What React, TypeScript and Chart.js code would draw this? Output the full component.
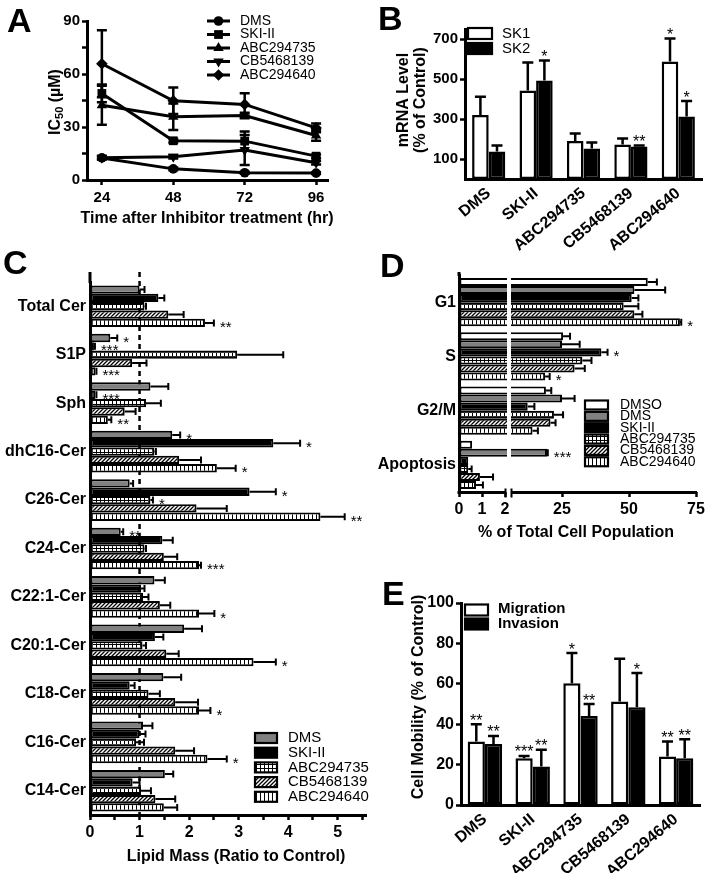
import React, { useEffect, useRef } from 'react';
import { Chart, registerables } from 'chart.js';

Chart.register(...registerables);

const FONT = '"Liberation Sans", Arial, Helvetica, sans-serif';
const W = 709;
const H = 873;

// ---------------- Panel A ----------------
const aHours = [24, 48, 72, 96];
const aYTicks = [0, 15, 30, 45, 60, 75, 90];
const aYLabels = [0, 30, 60, 90];
const aNames = ['DMS', 'SKI-II', 'ABC294735', 'CB5468139', 'ABC294640'];
const aDMS = [12.5, 6.3, 4.1, 3.9];
const aSKI = [49.0, 22.2, 22.0, 13.5];
const a735 = [42.3, 35.8, 36.5, 25.2];
const aCB = [12.6, 13.2, 17.0, 9.8];
const a640 = [65.8, 44.8, 42.8, 29.5];
const aDMSErr = [0.8, 0.8, 0.5, 0.5];
const aSKIErr = [5.0, 1.0, 5.5, 1.0];
const a735Err = [11.0, 7.5, 1.5, 3.0];
const aCBErr = [1.0, 1.0, 8.5, 1.0];
const a640Err = [19.0, 7.5, 6.3, 2.5];

// ---------------- Panel B ----------------
const bCats = ['DMS', 'SKI-II', 'ABC294735', 'CB5468139', 'ABC294640'];
const bSK1 = [320, 442, 190, 173, 587];
const bSK1Err = [91, 141, 38, 30, 116];
const bSK2 = [137, 492, 153, 162, 312];
const bSK2Err = [30, 100, 29, 5, 78];
const bSK1Sig = ['', '', '', '', '*'];
const bSK2Sig = ['', '*', '', '**', '*'];
const bYTicks = [100, 300, 500, 700];

// ---------------- Panel C ----------------
const cCats = ['Total Cer', 'S1P', 'Sph', 'dhC16-Cer', 'C26-Cer', 'C24-Cer', 'C22:1-Cer', 'C20:1-Cer', 'C18-Cer', 'C16-Cer', 'C14-Cer'];
const cNames = ['DMS', 'SKI-II', 'ABC294735', 'CB5468139', 'ABC294640'];
const cDMS = [1.00, 0.41, 1.22, 1.66, 0.80, 0.62, 1.30, 1.90, 1.48, 1.07, 1.51];
const cDMSErr = [0.10, 0.14, 0.36, 0.16, 0.07, 0.05, 0.21, 0.36, 0.36, 0.19, 0.17];
const cSKI = [1.38, 0.08, 0.11, 3.70, 3.22, 1.46, 1.03, 1.31, 0.80, 1.00, 0.86];
const cSKIErr = [0.12, 0.02, 0.02, 0.54, 0.53, 0.21, 0.07, 0.17, 0.10, 0.12, 0.14];
const c735 = [1.10, 2.97, 1.13, 1.30, 1.22, 1.10, 1.07, 1.06, 1.18, 0.93, 1.03];
const c735Err = [0.03, 0.93, 0.30, 0.03, 0.05, 0.03, 0.11, 0.07, 0.23, 0.16, 0.20];
const cCB = [1.58, 0.85, 0.70, 1.80, 2.15, 1.49, 1.41, 1.54, 1.72, 1.72, 1.32];
const cCBErr = [0.31, 0.29, 0.22, 0.44, 0.61, 0.27, 0.21, 0.25, 0.46, 0.38, 0.40];
const c640 = [2.32, 0.11, 0.36, 2.56, 4.65, 2.20, 2.20, 3.30, 2.20, 2.37, 1.49];
const c640Err = [0.18, 0.02, 0.07, 0.38, 0.49, 0.04, 0.31, 0.45, 0.23, 0.39, 0.27];
const cDMSSig = ['', '*', '', '*', '', '**', '', '', '', '', ''];
const cSKISig = ['', '***', '***', '*', '*', '', '', '', '', '', ''];
const c735Sig = ['', '', '', '', '*', '', '', '', '', '', ''];
const cCBSig = ['', '', '', '', '', '', '', '', '', '', ''];
const c640Sig = ['**', '***', '**', '*', '**', '***', '*', '*', '*', '*', ''];
const cXTicks = [0, 0.5, 1, 1.5, 2, 2.5, 3, 3.5, 4, 4.5, 5, 5.5];

// ---------------- Panel D ----------------
const dCats = ['G1', 'S', 'G2/M', 'Apoptosis'];
const dNames = ['DMSO', 'DMS', 'SKI-II', 'ABC294735', 'CB5468139', 'ABC294640'];
const dDMSO = [57.0, 25.4, 19.0, 0.57];
const dDMSOErr = [3.4, 2.6, 2.0, 0];
const dDMS = [52.0, 25.0, 25.0, 19.4];
const dDMSErr = [11.5, 6.6, 4.7, 0.3];
const dSKI = [51.0, 39.7, 12.2, 0.40];
const dSKIErr = [2.5, 2.3, 2.5, 0.02];
const d735 = [48.0, 32.6, 22.0, 0.40];
const d735Err = [5.5, 3.4, 3.4, 0.15];
const dCB = [52.0, 29.7, 20.7, 0.91];
const dCBErr = [3.0, 3.8, 1.9, 0.57];
const d640 = [69.0, 18.7, 14.0, 0.74];
const d640Err = [0.5, 1.7, 2.0, 0.30];
const dDMSOSig = ['', '', '', ''];
const dDMSSig = ['', '', '', '***'];
const dSKISig = ['', '*', '', ''];
const d735Sig = ['', '', '', ''];
const dCBSig = ['', '', '', ''];
const d640Sig = ['*', '*', '', ''];
const dTickValues = [0, 1, 2, 25, 50, 75];

// ---------------- Panel E ----------------
const eCats = ['DMS', 'SKI-II', 'ABC294735', 'CB5468139', 'ABC294640'];
const eMig = [31.4, 23.1, 60.3, 51.2, 24.0];
const eMigErr = [8.6, 1.2, 14.9, 21.2, 7.4];
const eInv = [30.2, 19.0, 44.1, 48.4, 23.1];
const eInvErr = [4.0, 8.3, 5.9, 16.9, 9.5];
const eMigSig = ['**', '***', '*', '', '**'];
const eInvSig = ['**', '**', '**', '*', '**'];
const eYTicks = [0, 20, 40, 60, 80, 100];

// ---------------- helpers ----------------
const bold = (s: number) => `bold ${s}px ${FONT}`;
const reg = (s: number) => `${s}px ${FONT}`;

// broken axis for panel D: 0..2 on an expanded segment, 25..75 on a compressed one
function dpos(v: number) {
  return v <= 2 ? v * 23 : 103 + (v - 25) * 2.68;
}

function makePattern(kind: string): any {
  const c = document.createElement('canvas');
  c.width = 4;
  c.height = 4;
  const g = c.getContext('2d') as CanvasRenderingContext2D;
  g.fillStyle = '#fff';
  g.fillRect(0, 0, 4, 4);
  g.fillStyle = '#000';
  g.strokeStyle = '#000';
  if (kind === 'grid') {
    g.fillRect(0, 0, 1, 4);
    g.fillRect(0, 0, 4, 1);
  } else if (kind === 'vline') {
    g.fillRect(0, 0, 1, 4);
  } else {
    g.lineWidth = 1.3;
    g.beginPath();
    g.moveTo(-1, 5); g.lineTo(5, -1);
    g.moveTo(-1, 1); g.lineTo(1, -1);
    g.moveTo(3, 5); g.lineTo(5, 3);
    g.stroke();
  }
  return g.createPattern(c, 'repeat');
}

function axis(size: number, o: any = {}) {
  const showTicks = o.ticks !== false;
  return {
    border: { display: o.border !== false, color: '#000', width: 3 },
    grid: { display: showTicks, drawOnChartArea: false, drawTicks: showTicks, tickLength: 5, tickWidth: 2.5, tickColor: '#000' },
    ticks: {
      color: '#000', font: { family: FONT, size, weight: 'bold' }, padding: o.padding ?? 2, autoSkip: false,
      maxRotation: o.rot ?? 0, minRotation: o.rot ?? 0,
      ...(o.callback ? { callback: o.callback } : {}),
    },
  };
}

function baseOptions(area: { left: number; top: number; right: number; bottom: number }) {
  return {
    responsive: false,
    animation: false,
    devicePixelRatio: 1,
    events: [],
    layout: { padding: { left: 0, top: area.top, right: W - area.right, bottom: 0 } },
    plugins: { legend: { display: false }, tooltip: { enabled: false }, title: { display: false } },
  };
}

function letter(ctx: any, ch: string, x: number, y: number) {
  ctx.save();
  ctx.fillStyle = '#000';
  ctx.font = bold(34);
  ctx.textAlign = 'left';
  ctx.textBaseline = 'alphabetic';
  ctx.fillText(ch, x, y);
  ctx.restore();
}

function hText(ctx: any, text: string, x: number, y: number, font: string, align = 'center') {
  ctx.save();
  ctx.fillStyle = '#000';
  ctx.font = font;
  ctx.textAlign = align;
  ctx.textBaseline = 'middle';
  ctx.fillText(text, x, y);
  ctx.restore();
}

function vText(ctx: any, text: string, x: number, y: number, font: string) {
  ctx.save();
  ctx.translate(x, y);
  ctx.rotate(-Math.PI / 2);
  ctx.fillStyle = '#000';
  ctx.font = font;
  ctx.textAlign = 'center';
  ctx.textBaseline = 'middle';
  ctx.fillText(text, 0, 0);
  ctx.restore();
}

function legendBox(ctx: any, x: number, yc: number, w: number, h: number, fill: any) {
  ctx.save();
  ctx.fillStyle = fill;
  ctx.fillRect(x, yc - h / 2, w, h);
  ctx.strokeStyle = '#000';
  ctx.lineWidth = 2.2;
  ctx.strokeRect(x, yc - h / 2, w, h);
  ctx.restore();
}

function marker(ctx: any, style: string, rot: number, x: number, y: number, r: number) {
  ctx.beginPath();
  if (style === 'circle') {
    ctx.arc(x, y, r, 0, Math.PI * 2);
  } else if (style === 'rect') {
    const s = Math.SQRT1_2 * r;
    ctx.rect(x - s, y - s, 2 * s, 2 * s);
  } else if (style === 'triangle') {
    let a = (rot * Math.PI) / 180;
    ctx.moveTo(x + Math.sin(a) * r, y - Math.cos(a) * r);
    a += (2 * Math.PI) / 3;
    ctx.lineTo(x + Math.sin(a) * r, y - Math.cos(a) * r);
    a += (2 * Math.PI) / 3;
    ctx.lineTo(x + Math.sin(a) * r, y - Math.cos(a) * r);
    ctx.closePath();
  } else {
    ctx.moveTo(x, y - r);
    ctx.lineTo(x + r, y);
    ctx.lineTo(x, y + r);
    ctx.lineTo(x - r, y);
    ctx.closePath();
  }
  ctx.fill();
}

// vertical error bar + stars (bars pointing up)
function vErr(chart: any, di: number, ends: number[], sigs: string[], cap: number) {
  const ctx = chart.ctx;
  const ys = chart.scales.y;
  const meta = chart.getDatasetMeta(di);
  ctx.save();
  ctx.strokeStyle = '#000';
  ctx.fillStyle = '#000';
  ctx.lineWidth = 2.5;
  meta.data.forEach((el: any, i: number) => {
    const top = ys.getPixelForValue(ends[i]);
    if (top < el.y - 0.5) {
      ctx.beginPath();
      ctx.moveTo(el.x, el.y);
      ctx.lineTo(el.x, top);
      ctx.moveTo(el.x - cap / 2, top);
      ctx.lineTo(el.x + cap / 2, top);
      ctx.stroke();
    }
    if (sigs[i]) {
      ctx.font = reg(16);
      ctx.textAlign = 'center';
      ctx.textBaseline = 'alphabetic';
      ctx.fillText(sigs[i], el.x, Math.min(top, el.y) + 1.5);
    }
  });
  ctx.restore();
}

// horizontal error bar + stars (bars pointing right)
function hErr(chart: any, di: number, ends: number[], sigs: string[], cap: number, fs: number) {
  const ctx = chart.ctx;
  const xs = chart.scales.x;
  const meta = chart.getDatasetMeta(di);
  ctx.save();
  ctx.strokeStyle = '#000';
  ctx.fillStyle = '#000';
  ctx.lineWidth = 2;
  meta.data.forEach((el: any, i: number) => {
    const end = xs.getPixelForValue(ends[i]);
    if (end > el.x + 0.5) {
      ctx.beginPath();
      ctx.moveTo(el.x, el.y);
      ctx.lineTo(end, el.y);
      ctx.moveTo(end, el.y - cap / 2);
      ctx.lineTo(end, el.y + cap / 2);
      ctx.stroke();
    }
    if (sigs[i]) {
      ctx.font = reg(fs);
      ctx.textAlign = 'left';
      ctx.textBaseline = 'alphabetic';
      ctx.fillText(sigs[i], Math.max(end, el.x) + 6, el.y + 0.6 * fs);
    }
  });
  ctx.restore();
}

// ---------------- Panel A config ----------------
function configA(): any {
  const defs = [
    { v: aDMS, e: aDMSErr, style: 'circle', rot: 0, r: 4.8 },
    { v: aSKI, e: aSKIErr, style: 'rect', rot: 0, r: 6.2 },
    { v: a735, e: a735Err, style: 'triangle', rot: 0, r: 6 },
    { v: aCB, e: aCBErr, style: 'triangle', rot: 180, r: 6 },
    { v: a640, e: a640Err, style: 'rectRot', rot: 0, r: 5.8 },
  ];
  const area = { left: 87, top: 21, right: 328, bottom: 180 };
  const plugin = {
    id: 'panelA',
    beforeDatasetsDraw(chart: any) {
      const ctx = chart.ctx;
      const ys = chart.scales.y;
      ctx.save();
      ctx.strokeStyle = '#000';
      ctx.lineWidth = 2.5;
      defs.forEach((d, di) => {
        chart.getDatasetMeta(di).data.forEach((el: any, i: number) => {
          const t = ys.getPixelForValue(d.v[i] + d.e[i]);
          const b = ys.getPixelForValue(d.v[i] - d.e[i]);
          ctx.beginPath();
          ctx.moveTo(el.x, t); ctx.lineTo(el.x, b);
          ctx.moveTo(el.x - 5, t); ctx.lineTo(el.x + 5, t);
          ctx.moveTo(el.x - 5, b); ctx.lineTo(el.x + 5, b);
          ctx.stroke();
        });
      });
      ctx.restore();
    },
    afterDraw(chart: any) {
      const ctx = chart.ctx;
      // legend
      const rows = [21, 34.5, 48, 61.5, 75];
      defs.forEach((d, i) => {
        ctx.save();
        ctx.strokeStyle = '#000';
        ctx.fillStyle = '#000';
        ctx.lineWidth = 3;
        ctx.beginPath();
        ctx.moveTo(207, rows[i]);
        ctx.lineTo(230, rows[i]);
        ctx.stroke();
        marker(ctx, d.style, d.rot, 218.5, rows[i], d.r);
        ctx.restore();
        hText(ctx, aNames[i], 240, rows[i], reg(14), 'left');
      });
      hText(ctx, 'Time after Inhibitor treatment (hr)', 207, 219, bold(16));
      // y title with subscript
      ctx.save();
      ctx.translate(54, 102);
      ctx.rotate(-Math.PI / 2);
      ctx.fillStyle = '#000';
      ctx.textBaseline = 'alphabetic';
      ctx.textAlign = 'left';
      ctx.font = bold(16);
      const w1 = ctx.measureText('IC').width;
      const w3 = ctx.measureText(' (\u00b5M)').width;
      ctx.font = bold(11);
      const w2 = ctx.measureText('50').width;
      let x = -(w1 + w2 + w3) / 2;
      ctx.font = bold(16);
      ctx.fillText('IC', x, 6);
      x += w1;
      ctx.font = bold(11);
      ctx.fillText('50', x, 9);
      x += w2;
      ctx.font = bold(16);
      ctx.fillText(' (\u00b5M)', x, 6);
      ctx.restore();
      letter(ctx, 'A', 7, 32);
    },
  };
  return {
    type: 'line',
    data: {
      datasets: defs.map((d, di) => ({
        label: aNames[di],
        data: aHours.map((h, i) => ({ x: h, y: d.v[i] })),
        borderColor: '#000',
        backgroundColor: '#000',
        borderWidth: 3,
        pointStyle: d.style,
        pointRotation: d.rot,
        pointRadius: d.r,
        pointBorderWidth: 0,
        pointBackgroundColor: '#000',
        tension: 0,
        clip: false,
      })),
    },
    options: {
      ...baseOptions(area),
      scales: {
        x: {
          type: 'linear', min: 19, max: 100,
          ...axis(15, { padding: 4 }),
          afterBuildTicks: (s: any) => { s.ticks = aHours.map((value) => ({ value })); },
          afterFit: (s: any) => { s.height = H - area.bottom; },
        },
        y: {
          type: 'linear', min: 0, max: 90,
          ...axis(15, { callback: (v: number) => (aYLabels.includes(v) ? String(v) : '') }),
          afterBuildTicks: (s: any) => { s.ticks = aYTicks.map((value) => ({ value })); },
          afterFit: (s: any) => { s.width = area.left; },
        },
      },
    },
    plugins: [plugin],
  };
}

// ---------------- Panel B config ----------------
function configB(): any {
  const area = { left: 465, top: 29, right: 702, bottom: 179 };
  const plugin = {
    id: 'panelB',
    afterDatasetsDraw(chart: any) {
      vErr(chart, 0, bSK1.map((v, i) => v + bSK1Err[i]), bSK1Sig, 11);
      vErr(chart, 1, bSK2.map((v, i) => v + bSK2Err[i]), bSK2Sig, 11);
    },
    afterDraw(chart: any) {
      const ctx = chart.ctx;
      legendBox(ctx, 468, 33.5, 24, 11, '#fff');
      legendBox(ctx, 468, 48.5, 24, 11, '#000');
      hText(ctx, 'SK1', 502, 33.5, reg(15), 'left');
      hText(ctx, 'SK2', 502, 48.5, reg(15), 'left');
      vText(ctx, 'mRNA Level', 404, 100, bold(16));
      vText(ctx, '(% of Control)', 421, 100, bold(16));
      letter(ctx, 'B', 378, 30);
    },
  };
  return {
    type: 'bar',
    data: {
      labels: bCats,
      datasets: [
        { label: 'SK1', data: bSK1, backgroundColor: '#fff', borderColor: '#000', borderWidth: 2.5, borderSkipped: false },
        { label: 'SK2', data: bSK2, backgroundColor: '#000', borderColor: '#000', borderWidth: 2.5, borderSkipped: false },
      ],
    },
    options: {
      ...baseOptions(area),
      datasets: { bar: { categoryPercentage: 0.7, barPercentage: 1 } },
      scales: {
        x: {
          ...axis(16, { ticks: false, rot: 40, padding: 5 }),
          afterFit: (s: any) => { s.height = H - area.bottom; },
        },
        y: {
          type: 'linear', min: 0, max: 750,
          ...axis(15),
          afterBuildTicks: (s: any) => { s.ticks = bYTicks.map((value) => ({ value })); },
          afterFit: (s: any) => { s.width = area.left; },
        },
      },
    },
    plugins: [plugin],
  };
}

// ---------------- Panel C config ----------------
function configC(): any {
  const area = { left: 90, top: 282, right: 366, bottom: 815 };
  const grid = makePattern('grid');
  const hatch = makePattern('hatch');
  const vline = makePattern('vline');
  const fills = ['#808080', '#000', grid, hatch, vline];
  const vals = [cDMS, cSKI, c735, cCB, c640];
  const errs = [cDMSErr, cSKIErr, c735Err, cCBErr, c640Err];
  const sigs = [cDMSSig, cSKISig, c735Sig, cCBSig, c640Sig];
  const plugin = {
    id: 'panelC',
    beforeDatasetsDraw(chart: any) {
      const ctx = chart.ctx;
      const x = chart.scales.x.getPixelForValue(1);
      ctx.save();
      ctx.strokeStyle = '#000';
      ctx.lineWidth = 2.5;
      ctx.setLineDash([5, 4]);
      ctx.beginPath();
      ctx.moveTo(x, 272);
      ctx.lineTo(x, chart.chartArea.bottom);
      ctx.stroke();
      ctx.restore();
    },
    afterDatasetsDraw(chart: any) {
      vals.forEach((v, di) => hErr(chart, di, v.map((x, i) => x + errs[di][i]), sigs[di], 7, 15));
    },
    afterDraw(chart: any) {
      const ctx = chart.ctx;
      const a = chart.chartArea;
      ctx.save();
      ctx.strokeStyle = '#000';
      ctx.lineWidth = 3;
      ctx.beginPath();
      ctx.moveTo(a.left, 272);
      ctx.lineTo(a.left, a.top + 1);
      ctx.stroke();
      ctx.restore();
      const rows = [738, 752.7, 767.4, 782.1, 796.8];
      cNames.forEach((n, i) => {
        legendBox(ctx, 255, rows[i], 22, 10, fills[i]);
        hText(ctx, n, 288, rows[i], reg(15), 'left');
      });
      hText(ctx, 'Lipid Mass (Ratio to Control)', 236, 857, bold(16));
      letter(ctx, 'C', 3, 274);
    },
  };
  return {
    type: 'bar',
    data: {
      labels: cCats,
      datasets: vals.map((v, i) => ({
        label: cNames[i], data: v, backgroundColor: fills[i], borderColor: '#000', borderWidth: 2, borderSkipped: false,
      })),
    },
    options: {
      ...baseOptions(area),
      indexAxis: 'y',
      datasets: { bar: { categoryPercentage: 0.86, barPercentage: 1 } },
      scales: {
        x: {
          type: 'linear', min: 0, max: 5.57,
          ...axis(16, { padding: 3, callback: (v: number) => (Number.isInteger(v) ? String(v) : '') }),
          afterBuildTicks: (s: any) => { s.ticks = cXTicks.map((value) => ({ value })); },
          afterFit: (s: any) => { s.height = H - area.bottom; },
        },
        y: {
          ...axis(16, { ticks: false, padding: 4 }),
          afterFit: (s: any) => { s.width = area.left; },
        },
      },
    },
    plugins: [plugin],
  };
}

// ---------------- Panel D config ----------------
function configD(): any {
  const area = { left: 459, top: 275, right: 459 + dpos(75), bottom: 492 };
  const grid = makePattern('grid');
  const hatch = makePattern('hatch');
  const vline = makePattern('vline');
  const fills = ['#fff', '#808080', '#000', grid, hatch, vline];
  const vals = [dDMSO, dDMS, dSKI, d735, dCB, d640];
  const errs = [dDMSOErr, dDMSErr, dSKIErr, d735Err, dCBErr, d640Err];
  const sigs = [dDMSOSig, dDMSSig, dSKISig, d735Sig, dCBSig, d640Sig];
  const plugin = {
    id: 'panelD',
    afterDatasetsDraw(chart: any) {
      const ctx = chart.ctx;
      const a = chart.chartArea;
      ctx.save();
      ctx.strokeStyle = '#fff';
      ctx.lineWidth = 4;
      ctx.beginPath();
      ctx.moveTo(a.left + 50, 272);
      ctx.lineTo(a.left + 50, a.bottom - 2);
      ctx.stroke();
      ctx.restore();
      vals.forEach((v, di) => hErr(chart, di, v.map((x, i) => dpos(x + errs[di][i])), sigs[di], 7, 15));
    },
    afterDraw(chart: any) {
      const ctx = chart.ctx;
      const a = chart.chartArea;
      ctx.save();
      ctx.strokeStyle = '#000';
      ctx.lineWidth = 3;
      ctx.beginPath();
      ctx.moveTo(a.left, 272);
      ctx.lineTo(a.left, a.top + 1);
      // broken x axis
      const y = a.bottom + 0.5;
      ctx.moveTo(a.left - 1.5, y);
      ctx.lineTo(a.left + 47, y);
      ctx.moveTo(a.left + 52.5, y);
      ctx.lineTo(a.right + 1, y);
      ctx.stroke();
      ctx.lineWidth = 2;
      ctx.beginPath();
      ctx.moveTo(a.left + 46.5, y - 4);
      ctx.lineTo(a.left + 46.5, y + 5);
      ctx.moveTo(a.left + 52.5, y - 4);
      ctx.lineTo(a.left + 52.5, y + 5);
      ctx.stroke();
      ctx.restore();
      const rows = dNames.map((_, i) => 405 + i * 11.35);
      dNames.forEach((n, i) => {
        legendBox(ctx, 585, rows[i], 23, 9, fills[i]);
        hText(ctx, n, 620, rows[i], reg(14), 'left');
      });
      hText(ctx, '% of Total Cell Population', 576, 533, bold(16));
      letter(ctx, 'D', 380, 277);
    },
  };
  return {
    type: 'bar',
    data: {
      labels: dCats,
      datasets: vals.map((v, i) => ({
        label: dNames[i], data: v.map(dpos), backgroundColor: fills[i], borderColor: '#000', borderWidth: 2, borderSkipped: false,
      })),
    },
    options: {
      ...baseOptions(area),
      indexAxis: 'y',
      datasets: { bar: { categoryPercentage: 0.89, barPercentage: 1 } },
      scales: {
        x: {
          type: 'linear', min: 0, max: dpos(75),
          ...axis(16, { border: false, padding: 3, callback: (_v: number, i: number) => String(dTickValues[i]) }),
          afterBuildTicks: (s: any) => { s.ticks = dTickValues.map((t) => ({ value: dpos(t) })); },
          afterFit: (s: any) => { s.height = H - area.bottom; },
        },
        y: {
          ...axis(16, { ticks: false, padding: 3 }),
          afterFit: (s: any) => { s.width = area.left; },
        },
      },
    },
    plugins: [plugin],
  };
}

// ---------------- Panel E config ----------------
function configE(): any {
  const area = { left: 461, top: 603, right: 700, bottom: 805 };
  const plugin = {
    id: 'panelE',
    afterDatasetsDraw(chart: any) {
      vErr(chart, 0, eMig.map((v, i) => v + eMigErr[i]), eMigSig, 11);
      vErr(chart, 1, eInv.map((v, i) => v + eInvErr[i]), eInvSig, 11);
    },
    afterDraw(chart: any) {
      const ctx = chart.ctx;
      legendBox(ctx, 465, 610, 23, 11, '#fff');
      legendBox(ctx, 465, 624, 23, 11, '#000');
      hText(ctx, 'Migration', 498, 609, bold(15), 'left');
      hText(ctx, 'Invasion', 498, 623.5, bold(15), 'left');
      vText(ctx, 'Cell Mobility (% of Control)', 419, 697, bold(16));
      letter(ctx, 'E', 382, 605);
    },
  };
  return {
    type: 'bar',
    data: {
      labels: eCats,
      datasets: [
        { label: 'Migration', data: eMig, backgroundColor: '#fff', borderColor: '#000', borderWidth: 2.5, borderSkipped: false },
        { label: 'Invasion', data: eInv, backgroundColor: '#000', borderColor: '#000', borderWidth: 2.5, borderSkipped: false },
      ],
    },
    options: {
      ...baseOptions(area),
      datasets: { bar: { categoryPercentage: 0.72, barPercentage: 1 } },
      scales: {
        x: {
          ...axis(16, { ticks: false, rot: 40, padding: 5 }),
          afterFit: (s: any) => { s.height = H - area.bottom; },
        },
        y: {
          type: 'linear', min: 0, max: 100,
          ...axis(16),
          afterBuildTicks: (s: any) => { s.ticks = eYTicks.map((value) => ({ value })); },
          afterFit: (s: any) => { s.width = area.left; },
        },
      },
    },
    plugins: [plugin],
  };
}

function ChartCanvas({ make }: { make: () => any }) {
  const ref = useRef<HTMLCanvasElement>(null);
  useEffect(() => {
    const chart = new Chart(ref.current as HTMLCanvasElement, make());
    return () => chart.destroy();
  }, []);
  return (
    <canvas
      ref={ref}
      width={W}
      height={H}
      style={{ position: 'absolute', left: 0, top: 0, width: W, height: H }}
    />
  );
}

export default function App() {
  Chart.defaults.font.family = FONT;
  Chart.defaults.color = '#000';
  return (
    <div style={{ position: 'fixed', left: 0, top: 0, width: W, height: H, background: '#fff', overflow: 'hidden' }}>
      <ChartCanvas make={configA} />
      <ChartCanvas make={configB} />
      <ChartCanvas make={configC} />
      <ChartCanvas make={configD} />
      <ChartCanvas make={configE} />
    </div>
  );
}
